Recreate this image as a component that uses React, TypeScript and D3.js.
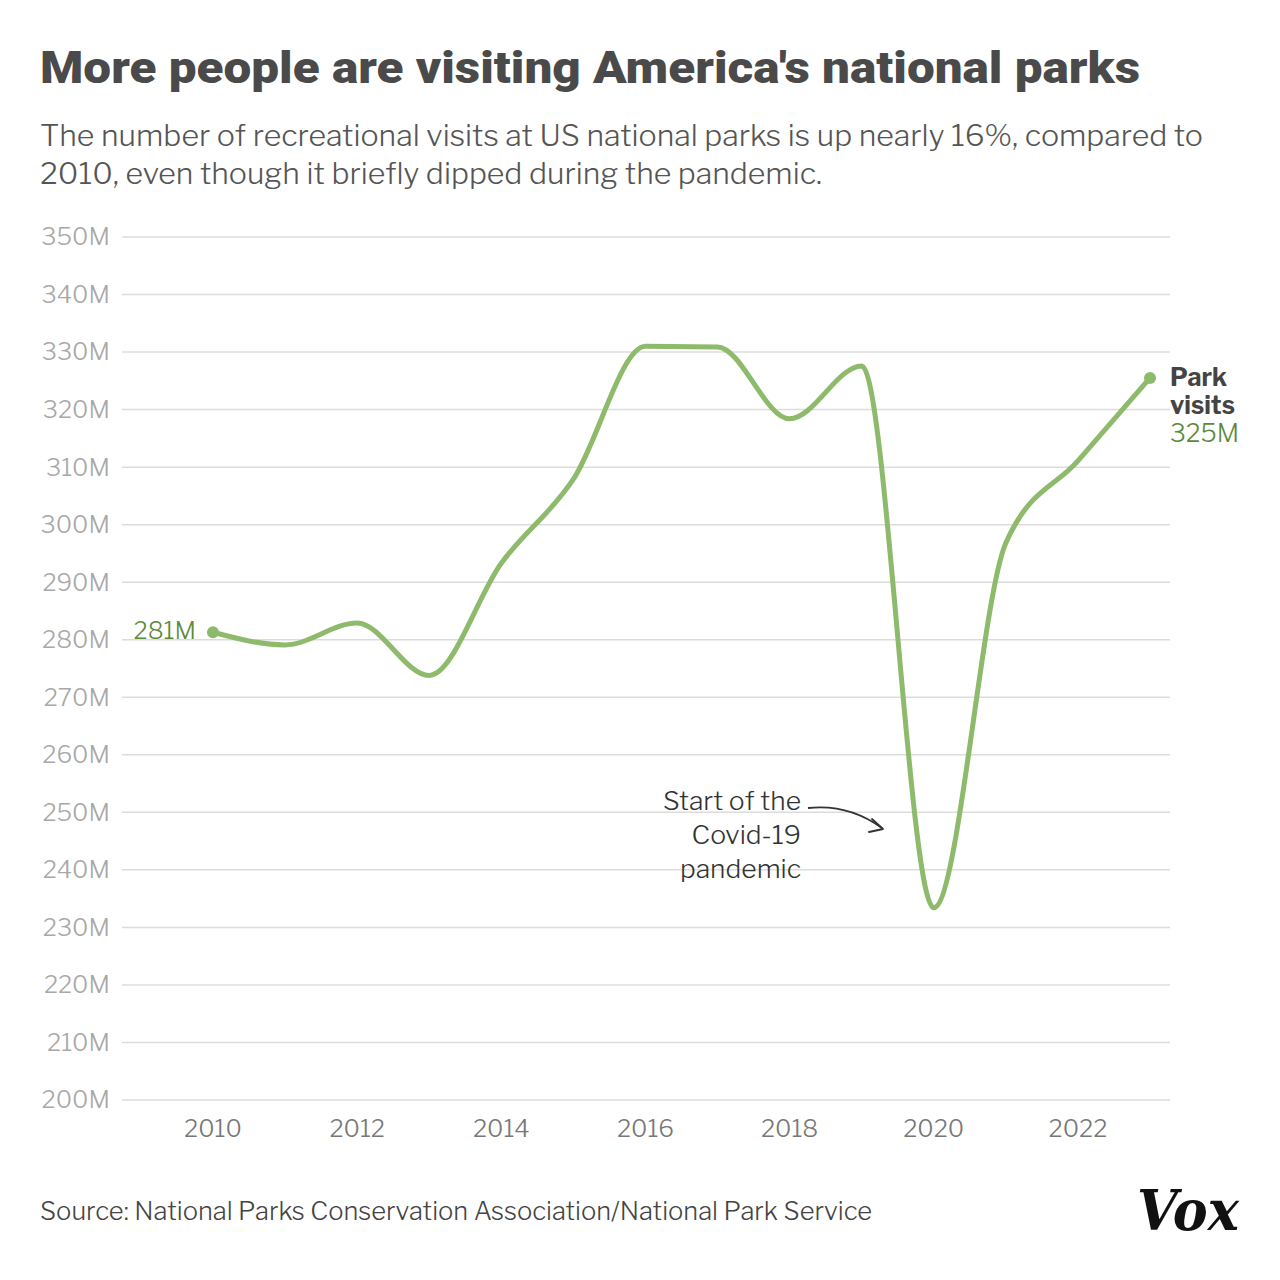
import React from "react";
import * as d3 from "d3";

const years = [2010, 2011, 2012, 2013, 2014, 2015, 2016, 2017, 2018, 2019, 2020, 2021, 2022, 2023];
const visits = [281.3, 279.1, 282.9, 273.8, 293.3, 307.9, 331.0, 330.9, 318.4, 327.6, 233.4, 296.8, 311.1, 325.5];
const yTicks = [200, 210, 220, 230, 240, 250, 260, 270, 280, 290, 300, 310, 320, 330, 340, 350];
const xTicks = [2010, 2012, 2014, 2016, 2018, 2020, 2022];
const annotationLines = ["Start of the", "Covid-19", "pandemic"];

const W = 1280;
const H = 1280;
const LINE = "#8dba6b";
const GREEN_TEXT = "#5b8a3c";
const SANS = "'Libre Franklin', Inter, 'Noto Sans', sans-serif";

export default function App() {
  const x = d3.scaleLinear().domain([2010, 2023]).range([213, 1150]);
  const y = d3.scaleLinear().domain([200, 350]).range([1100, 237]);
  const data = years.map((yr, i) => ({ yr, v: visits[i] }));
  const line = d3
    .line<{ yr: number; v: number }>()
    .x((d) => x(d.yr))
    .y((d) => y(d.v))
    .curve(d3.curveMonotoneX);
  const first = data[0];
  const last = data[data.length - 1];

  return (
    <svg width={W} height={H} viewBox={`0 0 ${W} ${H}`} style={{ display: "block", position: "absolute", left: 0, top: 0, background: "#fff" }}>
      <rect width={W} height={H} fill="#fff" />
      <text x={40} y={83} fontFamily="Roboto, sans-serif" fontWeight={900} fontSize={44} fill="#4a4a4a" textLength={1100} lengthAdjust="spacingAndGlyphs">
        More people are visiting America's national parks
      </text>
      <text x={40} y={146} fontFamily={SANS} fontWeight={300} fontSize={28.5} fill="#555" textLength={1163} lengthAdjust="spacingAndGlyphs">
        The number of recreational visits at US national parks is up nearly 16%, compared to
      </text>
      <text x={40} y={184} fontFamily={SANS} fontWeight={300} fontSize={28.5} fill="#555" textLength={782} lengthAdjust="spacingAndGlyphs">
        2010, even though it briefly dipped during the pandemic.
      </text>

      {yTicks.map((t) => (
        <g key={t}>
          <line x1={122} x2={1170} y1={y(t)} y2={y(t)} stroke="#dcdcdc" strokeWidth={1.5} />
          <text x={110} y={y(t)} dy="0.35em" textAnchor="end" fontFamily={SANS} fontWeight={300} fontSize={24} fill="#a8a8a8">
            {t}M
          </text>
        </g>
      ))}
      {xTicks.map((t) => (
        <text key={t} x={x(t)} y={1137} textAnchor="middle" fontFamily={SANS} fontWeight={300} fontSize={24} fill="#777">
          {t}
        </text>
      ))}

      <path d={line(data) || ""} fill="none" stroke={LINE} strokeWidth={5} strokeLinejoin="round" strokeLinecap="round" />
      <circle cx={x(first.yr)} cy={y(first.v)} r={6} fill={LINE} />
      <circle cx={x(last.yr)} cy={y(last.v)} r={6} fill={LINE} />

      <text x={196} y={y(first.v)} dy="0.3em" textAnchor="end" fontFamily={SANS} fontWeight={300} fontSize={24} fill={GREEN_TEXT}>
        {Math.round(first.v)}M
      </text>
      <text x={1170} y={386} fontFamily={SANS} fontWeight={700} fontSize={25} fill="#444">Park</text>
      <text x={1170} y={414} fontFamily={SANS} fontWeight={700} fontSize={25} fill="#444">visits</text>
      <text x={1170} y={442} fontFamily={SANS} fontWeight={300} fontSize={25} fill={GREEN_TEXT}>
        {Math.floor(last.v)}M
      </text>

      {annotationLines.map((l, i) => (
        <text key={l} x={801} y={810 + i * 34} textAnchor="end" fontFamily={SANS} fontWeight={300} fontSize={26.5} fill="#333">
          {l}
        </text>
      ))}
      <path d="M808,808 C835,805 860,812 882,828" fill="none" stroke="#333" strokeWidth={1.8} />
      <path d="M872,819 L883,829 L869,832" fill="none" stroke="#333" strokeWidth={1.8} strokeLinejoin="round" strokeLinecap="round" />

      <text x={40} y={1220} fontFamily={SANS} fontWeight={300} fontSize={25} fill="#444" textLength={832} lengthAdjust="spacingAndGlyphs">
        Source: National Parks Conservation Association/National Park Service
      </text>
      <text x={1137} y={1230} fontFamily="'DejaVu Serif', 'Liberation Serif', serif" fontWeight={700} fontStyle="italic" fontSize={56} fill="#111" textLength={102} lengthAdjust="spacingAndGlyphs">
        Vox
      </text>
    </svg>
  );
}
